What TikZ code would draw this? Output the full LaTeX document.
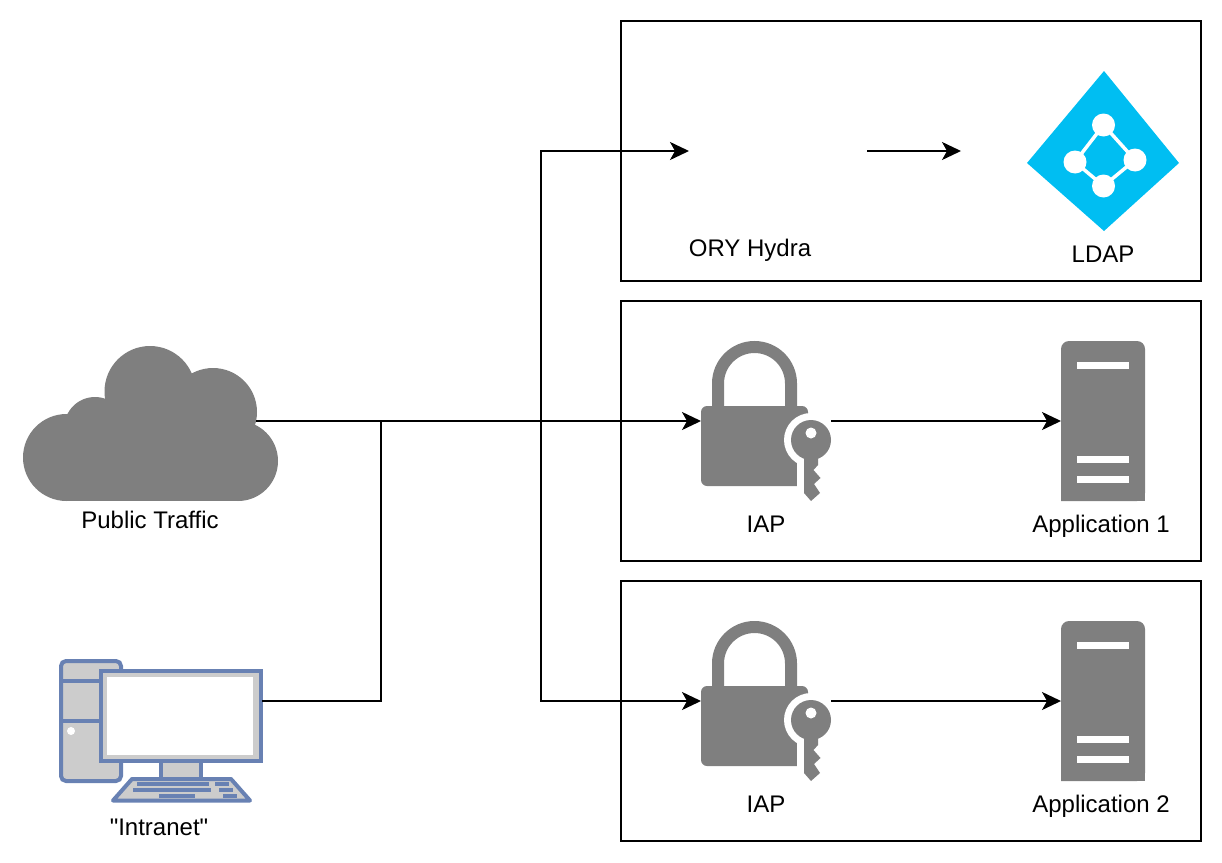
\documentclass[tikz,border=0pt]{standalone}
\usepackage{fontspec}
\newfontfamily\labelfont{Liberation Sans}
\usetikzlibrary{arrows.meta}
\definecolor{icongray}{HTML}{7F7F7F}
\definecolor{pcblue}{HTML}{6881B3}
\definecolor{pcgray}{HTML}{CCCCCC}
\definecolor{ldapblue}{HTML}{00BEF2}
\tikzset{
  panel/.style={draw=black,line width=2pt},
  anchorbox/.style={inner sep=0pt,outer sep=0pt,minimum width=#1},
  label/.style={inner sep=0pt,font=\labelfont\fontsize{24}{28}\selectfont,text=black},
  link/.style={line width=2pt,draw=black,-{Stealth[length=19pt,width=18pt,inset=5pt]}},
  plain/.style={line width=2pt,draw=black},
  pcline/.style={draw=pcblue,line width=4pt},
  pckey/.style={fill=pcblue}
}
\newcommand{\lockicon}[1]{%
  \begin{scope}[shift={(0,#1)}]
    \draw[icongray,line width=12pt] (718,408) -- (718,383.5) arc[start angle=180,end angle=0,radius=36.5pt] -- (791,408);
    \fill[icongray,rounded corners=6pt] (701,406) -- (808,406) -- (808,486) -- (701,486) -- cycle;
    \fill[white] (797,432) rectangle (815,490);
    \fill[white] (811,440) circle[radius=27pt];
    \fill[icongray] (811,440) circle[radius=20pt];
    \fill[icongray] (804,450) -- (818,450) -- (818,465) -- (813.5,470) -- (820.5,478) -- (814,484) -- (820,493) -- (811,501) -- (804,493) -- cycle;
    \fill[white] (811,433) circle[radius=5.5pt];
  \end{scope}}
\newcommand{\servericon}[1]{%
  \begin{scope}[shift={(0,#1)}]
    \fill[icongray,rounded corners=8pt] (1061,501) -- (1061,341) -- (1145,341) -- (1145,501) [sharp corners] -- cycle;
    \fill[icongray] (1061,480) rectangle (1145,501);
    \fill[white] (1077,362) rectangle (1129,369);
    \fill[white] (1077,456) rectangle (1129,462.5);
    \fill[white] (1077,476) rectangle (1129,483);
  \end{scope}}
\begin{document}
\begin{tikzpicture}[x=1pt,y=-1pt]
\useasboundingbox (0,0) rectangle (1222,862);
% panels
\draw[panel] (621,21) rectangle (1201,281);
\draw[panel] (621,301) rectangle (1201,561);
\draw[panel] (621,581) rectangle (1201,841);
% cloud
\fill[icongray] (66.5,457.5) circle[radius=43.5pt];
\fill[icongray] (95,427.8) circle[radius=30.8pt];
\fill[icongray] (150,391.5) circle[radius=45.5pt];
\fill[icongray] (213,412) circle[radius=44pt];
\fill[icongray] (238,461) circle[radius=40pt];
\fill[icongray] (66.5,425) rectangle (238,501);
% computer
\draw[pcline,fill=pcgray,rounded corners=5pt] (61,661) rectangle (121,781);
\draw[pcline] (61,681) -- (101,681);
\draw[pcline] (61,721) -- (101,721);
\fill[white] (71,731) circle[radius=4pt];
\draw[pcline,fill=pcgray] (161,761) rectangle (201,779);
\draw[pcline,fill=pcgray] (101,671) rectangle (261,761);
\fill[white] (107,677) rectangle (253,755);
\draw[pcline,fill=pcgray,line join=round] (132,779) -- (231,779) -- (250,800.5) -- (113,800.5) -- cycle;
\fill[pckey] (137,782) rectangle (209,786);
\fill[pckey] (215,782) rectangle (229,786);
\fill[pckey] (133,788) rectangle (211,792);
\fill[pckey] (219,788) rectangle (233,792);
\fill[pckey] (159,794) rectangle (195,798);
\fill[pckey] (223,794) rectangle (237,798);
% LDAP
\fill[ldapblue] (1104,71) -- (1179,163) -- (1104,231) -- (1027,163) -- cycle;
\draw[white,line width=3.5pt] (1103.5,125) -- (1135,160) -- (1103.5,186) -- (1075,162) -- cycle;
\fill[white] (1103.5,125) circle[radius=11.5pt];
\fill[white] (1075,162) circle[radius=11.5pt];
\fill[white] (1135,160) circle[radius=11.5pt];
\fill[white] (1103.5,186) circle[radius=11.5pt];
% locks and servers
\lockicon{0}
\lockicon{280}
\servericon{0}
\servericon{280}
% connection nodes
\node[anchorbox=178pt] (hydra) at (778,151) {};
\coordinate (ldapin) at (961,151);
\coordinate (cloudout) at (256,421);
\coordinate (pcout) at (262,701);
\coordinate (joinA) at (381,421);
\coordinate (joinB) at (541,421);
\node[anchorbox=130pt] (lockA) at (766,421) {};
\node[anchorbox=130pt] (lockB) at (766,701) {};
\node[anchorbox=84pt] (appA) at (1103,421) {};
\node[anchorbox=84pt] (appB) at (1103,701) {};
% connectors
\draw[link] (cloudout) -- (lockA.west);
\draw[plain] (pcout) -| (joinA);
\draw[link] (joinB) |- (hydra.west);
\draw[link] (joinB) |- (lockB.west);
\draw[link] (hydra.east) -- (ldapin);
\draw[link] (lockA.east) -- (appA.west);
\draw[link] (lockB.east) -- (appB.west);
% labels
\node[label] (t1) at (750,250) {ORY Hydra};
\node[label] (t2) at (1103,254) {LDAP};
\node[label] (t3) at (150,520) {Public Traffic};
\node[label] (t4) at (766,524) {IAP};
\node[label] (t5) at (1101,526) {Application 1};
\node[label] (t6) at (766,804) {IAP};
\node[label] (t7) at (1101,806) {Application 2};
\node[label] (t8) at (159,827) {"Intranet"};
\end{tikzpicture}
\end{document}
